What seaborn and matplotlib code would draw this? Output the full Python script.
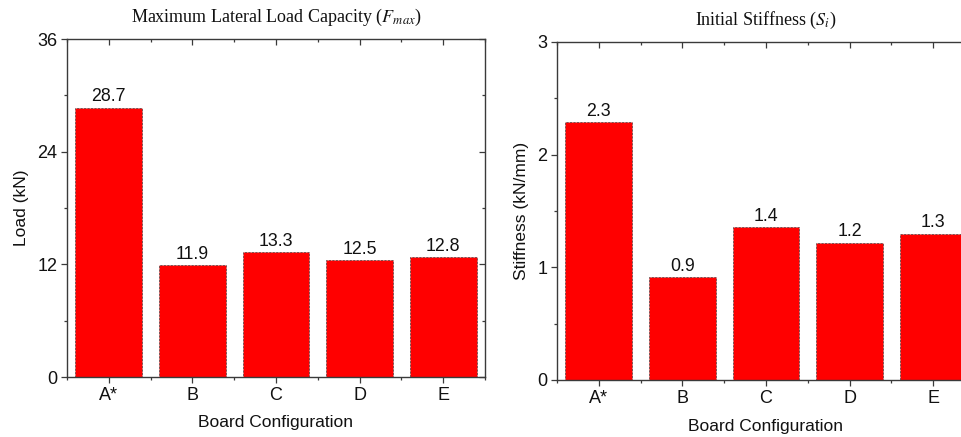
import matplotlib
matplotlib.use("Agg")
import matplotlib.pyplot as plt
from matplotlib.ticker import MultipleLocator, FixedLocator
import seaborn as sns
import pandas as pd

# Board configurations and measured results
configs = ["A*", "B", "C", "D", "E"]
load_kn = [28.7, 11.9, 13.3, 12.5, 12.8]
stiffness_kn_mm = [2.29, 0.91, 1.36, 1.22, 1.30]

sns.set_theme(style="ticks")
plt.rcParams["font.family"] = ["Liberation Sans", "DejaVu Sans"]
plt.rcParams["mathtext.fontset"] = "stix"

W, H = 962, 437
fig = plt.figure(figsize=(W / 100, H / 100), dpi=100)

def px_axes(left, top, right, bottom):
    return fig.add_axes([left / W, 1 - bottom / H, (right - left) / W, (bottom - top) / H])

ax1 = px_axes(67, 39, 485, 377)
ax2 = px_axes(557, 42, 975, 380)

panels = [
    (ax1, load_kn, 36, 12, 6, "Load (kN)", "Maximum Lateral Load Capacity ($F_{max}$)", 45),
    (ax2, stiffness_kn_mm, 3, 1, 0.5, "Stiffness (kN/mm)", "Initial Stiffness ($S_i$)", 35),
]

spine_col = "#3a3a3a"
for ax, vals, ymax, major, minor, ylab, title, ylab_off in panels:
    df = pd.DataFrame({"config": configs, "value": vals})
    sns.barplot(data=df, x="config", y="value", color="#ff0000", saturation=1,
                width=0.8, edgecolor="#444444", linewidth=0.5,
                linestyle=(0, (3, 2)), ax=ax)
    ax.bar_label(ax.containers[0], fmt="%.1f", padding=1.5, fontsize=12.8, color="#111111")
    ax.set_xlim(-0.5, 4.5)
    ax.set_ylim(0, ymax)
    ax.yaxis.set_major_locator(MultipleLocator(major))
    ax.yaxis.set_minor_locator(MultipleLocator(minor))
    ax.xaxis.set_minor_locator(FixedLocator([-0.5, 0.5, 1.5, 2.5, 3.5, 4.5]))
    for s in ax.spines.values():
        s.set_visible(True)
        s.set_color(spine_col)
        s.set_linewidth(1.0)
    ax.tick_params(axis="both", which="major", length=4, width=0.9, color=spine_col,
                   labelsize=13, labelcolor="#111111", pad=3)
    ax.tick_params(axis="both", which="minor", length=2.5, width=0.9, color=spine_col)
    ax.tick_params(axis="x", which="both", top=True, direction="out")
    ax.tick_params(axis="y", which="both", right=True, direction="out")
    # mirrored ticks on top and right point inward
    for t in ax.xaxis.get_major_ticks() + ax.xaxis.get_minor_ticks():
        t.tick2line.set_marker(3)
    for t in ax.yaxis.get_major_ticks() + ax.yaxis.get_minor_ticks():
        t.tick2line.set_marker(0)
    ax.set_xlabel("Board Configuration", fontsize=12.5, color="#111111")
    ax.set_ylabel(ylab, fontsize=12.5, color="#111111")
    ax.xaxis.label.set_va("center")
    ax.xaxis.set_label_coords(0.5, -46 / 338)
    ax.yaxis.label.set_va("center")
    ax.yaxis.set_label_coords(-ylab_off / 418, 0.5)
    ax.text(0.5, 1 + 22 / 338, title, transform=ax.transAxes, ha="center", va="center",
            fontsize=13, family=["Liberation Serif", "DejaVu Serif"], color="#111111")

fig.savefig("out.png", dpi=100)
